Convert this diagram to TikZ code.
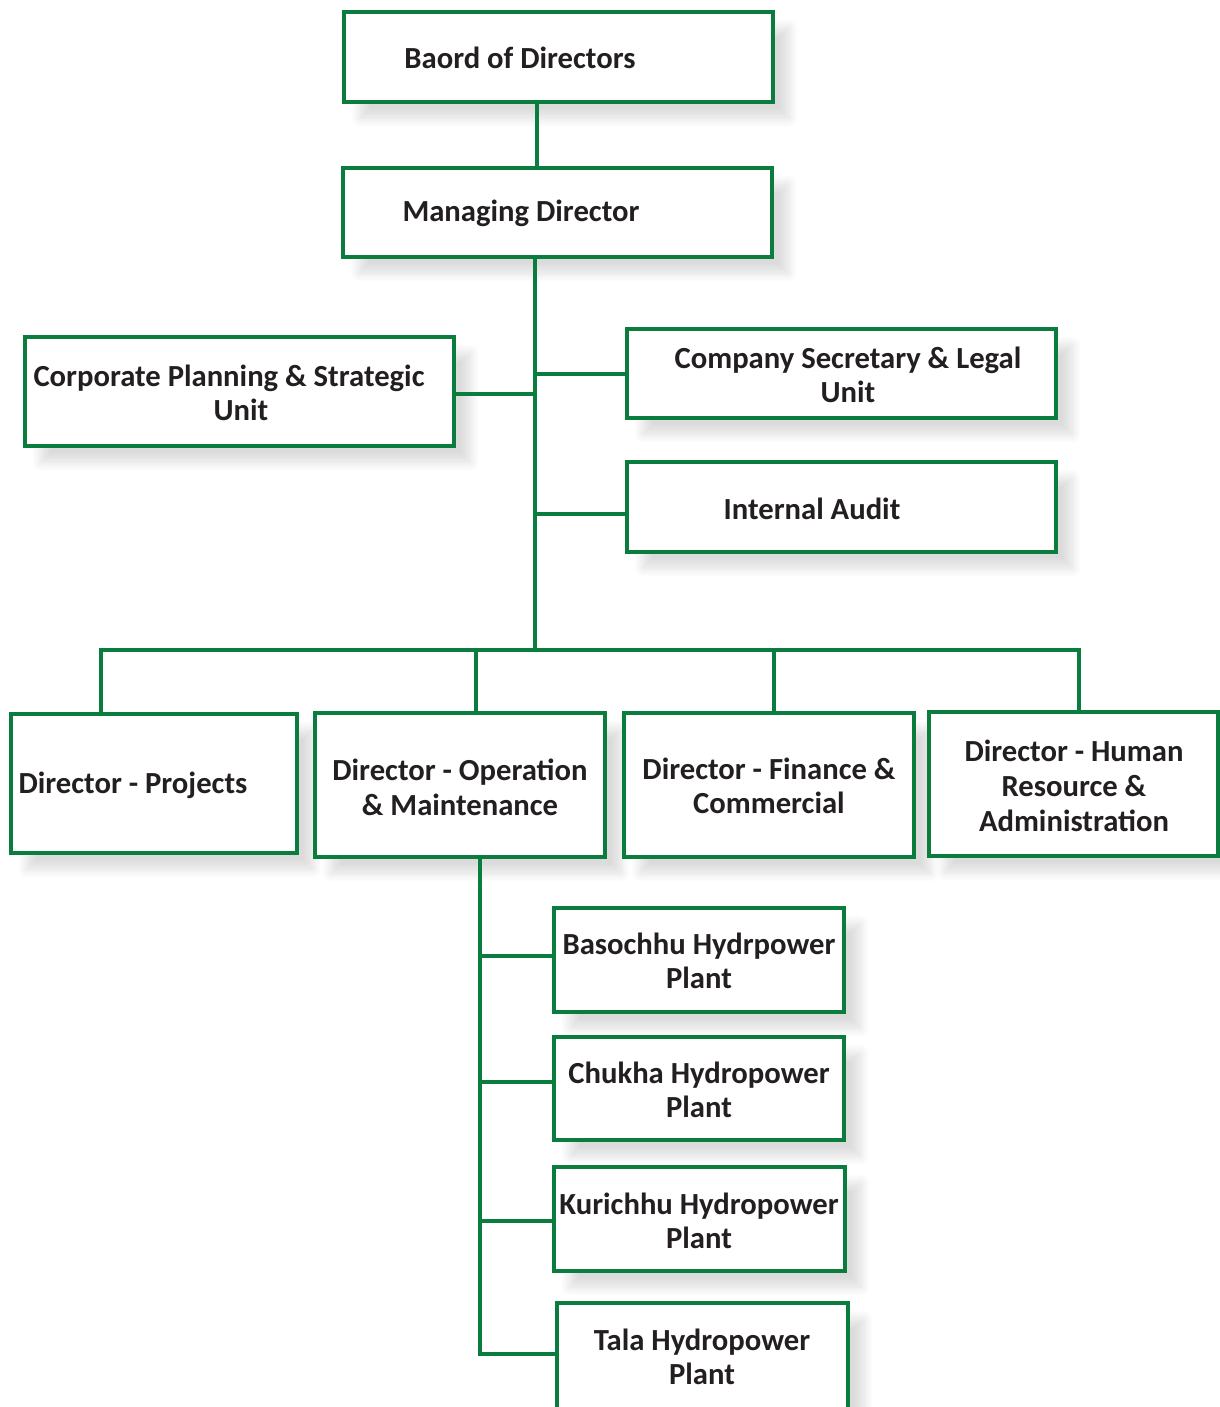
\documentclass[tikz,border=0pt]{standalone}
\usepackage{fontspec}
\setmainfont{Carlito}
\usetikzlibrary{shadows.blur}
\definecolor{org}{HTML}{0A7D3E}
\definecolor{ink}{HTML}{231F20}
\begin{document}
\begin{tikzpicture}[x=0.75pt,y=-0.75pt,
  box/.style={draw=org,line width=3pt,fill=white,
    blur shadow={shadow xshift=12pt,shadow yshift=-12pt,shadow opacity=14,shadow blur radius=7pt,shadow blur steps=12}},
  lbl/.style={font=\fontsize{23}{26}\selectfont\bfseries,text=ink,align=center,inner sep=0pt},
  link/.style={draw=org,line width=3pt}]
\useasboundingbox (0,0) rectangle (1220,1407);
% boxes
\path[box] (344,12) rectangle (773,102);
\node[coordinate] (bod) at (537,102) {};
\path[box] (343,168) rectangle (772,257);
\node[coordinate] (mdt) at (537,168) {};
\node[coordinate] (mdb) at (535,257) {};
\path[box] (25,337) rectangle (454,446);
\node[coordinate] (cpr) at (454,394) {};
\path[box] (627,329) rectangle (1056,418);
\node[coordinate] (csl) at (627,374) {};
\path[box] (627,462) rectangle (1056,552);
\node[coordinate] (ial) at (627,514) {};
\path[box] (11,714) rectangle (297,853);
\node[coordinate] (dpt) at (101,714) {};
\path[box] (315,713) rectangle (605,857);
\node[coordinate] (omt) at (476,713) {};
\node[coordinate] (omb) at (480,857) {};
\path[box] (624,713) rectangle (914,857);
\node[coordinate] (fct) at (774,713) {};
\path[box] (929,712) rectangle (1218,856);
\node[coordinate] (hrt) at (1079,712) {};
\path[box] (554,908) rectangle (844,1012);
\node[coordinate] (bal) at (554,956) {};
\path[box] (554,1037) rectangle (844,1140);
\node[coordinate] (chl) at (554,1082) {};
\path[box] (554,1167) rectangle (845,1271);
\node[coordinate] (kul) at (554,1221) {};
\path[box] (557,1303) rectangle (848,1420);
\node[coordinate] (tal) at (557,1354) {};
% labels
\node[lbl] (tbod) at (520,58) {Baord of Directors};
\node[lbl] (tmd) at (521,213) {Managing Director};
\node[lbl] (tcp) at (229,393) {Corporate Planning \& Strategic\\\hspace*{18pt}Unit};
\node[lbl] (tcs) at (848,375) {Company Secretary \& Legal\\Unit};
\node[lbl] (tia) at (812,509) {Internal Audit};
\node[lbl] (tdp) at (133,785) {Director - Projects};
\node[lbl] (tom) at (460,787) {Director - Operation\\\& Maintenance};
\node[lbl] (tfc) at (769,786) {Director - Finance \&\\Commercial};
\node[lbl] (thr) at (1074,786) {Director - Human\\Resource \&\\Administration};
\node[lbl] (tba) at (699,961) {Basochhu Hydrpower\\Plant};
\node[lbl] (tch) at (699,1090) {Chukha Hydropower\\Plant};
\node[lbl] (tku) at (699,1221) {Kurichhu Hydropower\\Plant};
\node[lbl] (tta) at (702,1357) {Tala Hydropower\\Plant};
% connectors
\coordinate (bus) at (535,650);
\coordinate (busl) at (101,650);
\coordinate (busr) at (1079,650);
\path[link] (bod) -- (mdt);
\path[link] (mdb) -- (bus);
\path[link] (cpr) -- (cpr -| mdb);
\path[link] (csl) -- (csl -| mdb);
\path[link] (ial) -- (ial -| mdb);
\path[link] (dpt) -- (busl) -- (busr) -- (hrt);
\path[link] (omt) -- (omt |- bus);
\path[link] (fct) -- (fct |- bus);
\path[link] (omb) -- (omb |- tal) -- (tal);
\path[link] (bal) -- (bal -| omb);
\path[link] (chl) -- (chl -| omb);
\path[link] (kul) -- (kul -| omb);
\end{tikzpicture}
\end{document}
